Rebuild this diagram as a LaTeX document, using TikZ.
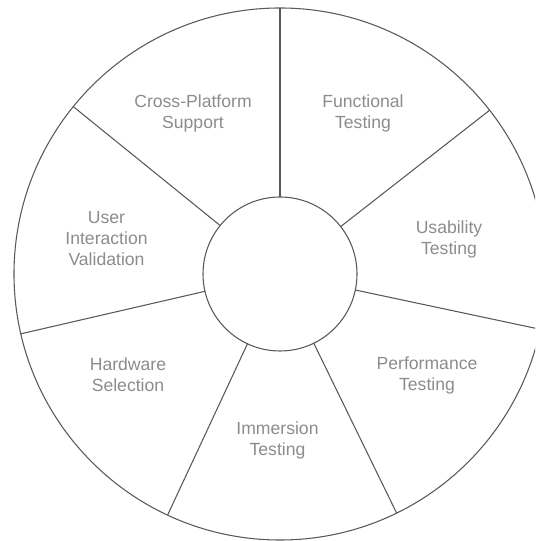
\documentclass[tikz,border=0pt]{standalone}
\usepackage{fontspec}
\setmainfont{Liberation Sans}
\usepackage{tikz}
\usetikzlibrary{positioning}

\begin{document}
\begin{tikzpicture}[
    x=0.75pt, y=0.75pt,
    ring/.style={draw=black!65, line width=0.8pt, circle, inner sep=0pt, outer sep=0pt},
    spoke/.style={draw=black!65, line width=0.8pt},
    lbl/.style={align=center, text=black!45, font=\fontsize{13.2}{15.75}\selectfont}
]
\useasboundingbox (0,0) rectangle (535,541);
\clip (0,0) rectangle (535,541);

\node[ring, minimum size=399pt] (rim) at (280,267) {};
\node[ring, minimum size=115.5pt, fill=white] (hub) at (280,267) {};

% seven spokes, 360/7 apart
\draw[spoke] (hub.90) -- (rim.90);
\draw[spoke] (hub.38.57) -- (rim.38.57);
\draw[spoke] (hub.-12.86) -- (rim.-12.86);
\draw[spoke] (hub.-64.29) -- (rim.-64.29);
\draw[spoke] (hub.-115.71) -- (rim.-115.71);
\draw[spoke] (hub.-167.14) -- (rim.-167.14);
\draw[spoke] (hub.141.43) -- (rim.141.43);

\node[lbl] (func) at (363,428) {Functional\\Testing};
\node[lbl] (usab) at (449,302) {Usability\\Testing};
\node[lbl] (perf) at (427,166) {Performance\\Testing};
\node[lbl] (imm) at (277.5,101) {Immersion\\Testing};
\node[lbl] (hw) at (128,166) {Hardware\\Selection};
\node[lbl] (user) at (106.5,302) {User\\Interaction\\Validation};
\node[lbl] (cross) at (193,428) {Cross-Platform\\Support};
\end{tikzpicture}
\end{document}
